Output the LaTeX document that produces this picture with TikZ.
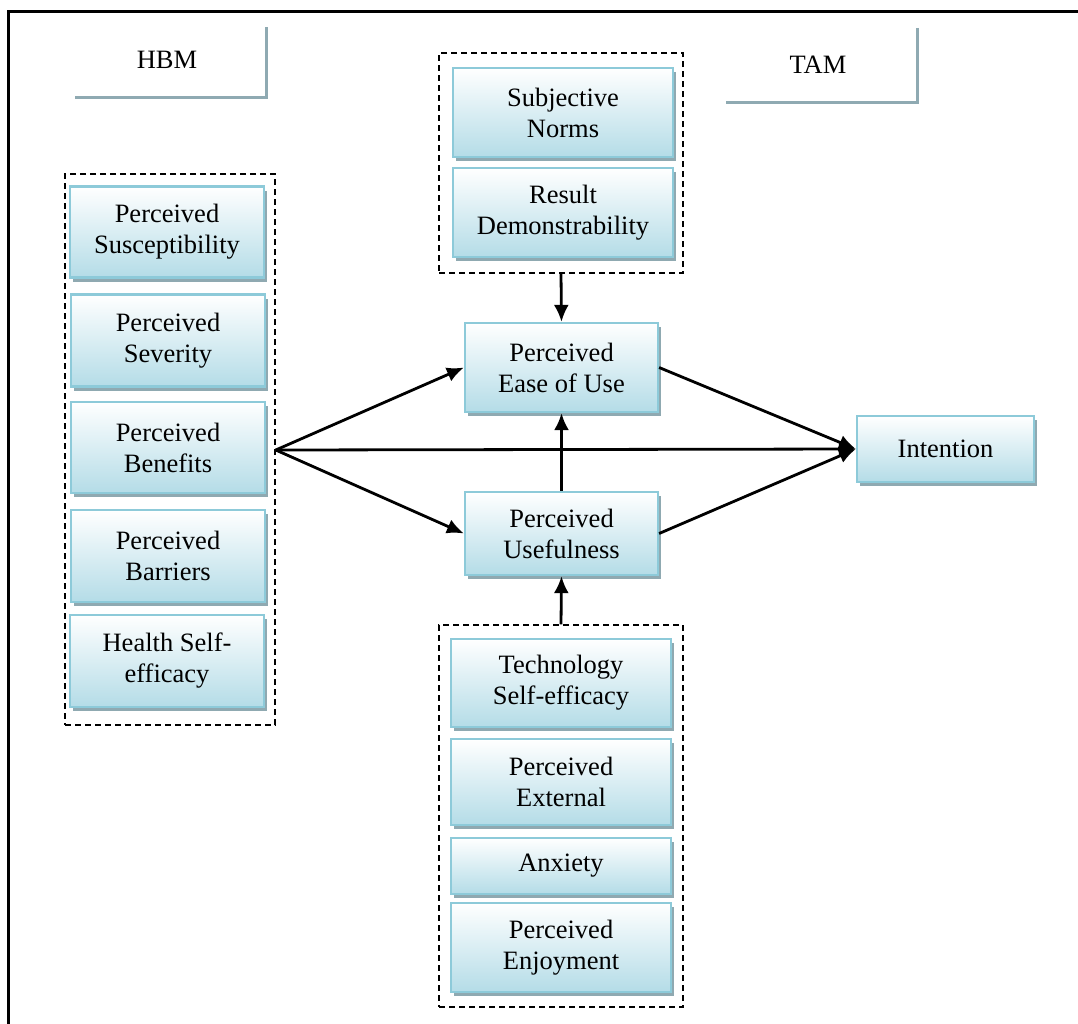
\documentclass[tikz,border=0pt]{standalone}
\usepackage{fontspec}
\setmainfont{Liberation Serif}
\usetikzlibrary{shadows,arrows.meta}
\definecolor{boxblue}{HTML}{B4DCE7}
\definecolor{boxedge}{HTML}{8DCAD9}
\definecolor{shadowc}{HTML}{8FA9B1}
\definecolor{labline}{HTML}{8FAAB2}
\tikzset{
  box/.style={draw=boxedge, line width=2.2pt, top color=white, bottom color=boxblue,
    drop shadow={shadow xshift=3pt, shadow yshift=-4pt, fill=shadowc, opacity=1},
    align=center, inner sep=2pt, font=\fontsize{26.5}{31}\selectfont},
  grp/.style={draw=black, line width=1.5pt, dash pattern=on 6pt off 4pt, inner sep=0pt},
  lab/.style={inner sep=0pt, font=\fontsize{26.5}{31}\selectfont},
  labdeco/.style={draw=labline, line width=3pt},
  conn/.style={draw=black, line width=2.8pt, -{Latex[length=17pt,width=15pt]}}
}
\begin{document}
\begin{tikzpicture}[x=1pt,y=-1pt]
\useasboundingbox (0,0) rectangle (1078,1023);
% outer frame
\draw[line width=3pt, black] (8.5,1030) -- (8.5,11.5) -- (1085,11.5);
% labels
\node[lab, minimum width=191pt, minimum height=70pt] (hbm) at (170.5,62.5) {};
\node[lab] (hbmt) at (167,60) {HBM};
\draw[labdeco] (hbm.north east) -- (hbm.south east) -- (hbm.south west);
\node[lab, minimum width=191pt, minimum height=74pt] (tam) at (821.5,65) {};
\node[lab] (tamt) at (818,65) {TAM};
\draw[labdeco] (tam.north east) -- (tam.south east) -- (tam.south west);
% HBM group
\node[box, minimum width=194pt, minimum height=91pt] (sus) at (167,232) {Perceived\\Susceptibility};
\node[box, minimum width=194pt, minimum height=92pt] (sev) at (168,340.5) {Perceived\\Severity};
\node[box, minimum width=194pt, minimum height=91pt] (ben) at (168,447.5) {Perceived\\Benefits};
\node[box, minimum width=194pt, minimum height=92pt] (bar) at (168,556) {Perceived\\Barriers};
\node[box, minimum width=194pt, minimum height=92pt] (hse) at (167,661) {Health Self-\\efficacy};
\node[grp, minimum width=210pt, minimum height=551pt] (hbmg) at (170,449.5) {};
% top group
\node[box, minimum width=220pt, minimum height=89pt] (sn) at (563,112.5) {Subjective\\Norms};
\node[box, minimum width=220pt, minimum height=89pt] (rd) at (563,212.5) {Result\\Demonstrability};
\node[grp, minimum width=244pt, minimum height=220pt] (topg) at (561,163) {};
% TAM core
\node[box, minimum width=193pt, minimum height=89pt] (peou) at (561.5,367.5) {Perceived\\Ease of Use};
\node[box, minimum width=193pt, minimum height=83pt] (pu) at (561.5,533.5) {Perceived\\Usefulness};
\node[box, minimum width=177pt, minimum height=66pt] (int) at (945.5,449) {Intention};
% bottom group
\node[box, minimum width=220pt, minimum height=88pt] (ts) at (561,683) {Technology\\Self-efficacy};
\node[box, minimum width=220pt, minimum height=86pt] (pe) at (561,782) {Perceived\\External};
\node[box, minimum width=220pt, minimum height=56pt] (anx) at (561,866) {Anxiety};
\node[box, minimum width=220pt, minimum height=89pt] (enj) at (561,947.5) {Perceived\\Enjoyment};
\node[grp, minimum width=244pt, minimum height=382pt] (botg) at (561,816) {};
% connectors
\coordinate (src) at (hbmg.east |- 0,450);
\draw[conn] (src) -- (peou.west);
\draw[conn] (src) -- (pu.west);
\draw[conn] (src) -- (int.west);
\draw[conn] (peou.east) -- (int.west);
\draw[conn] (pu.east) -- (int.west);
\draw[conn] (pu.north) -- (peou.south);
\draw[conn] (topg.south) -- (peou.north);
\draw[conn] (botg.north) -- (pu.south);
\end{tikzpicture}
\end{document}
